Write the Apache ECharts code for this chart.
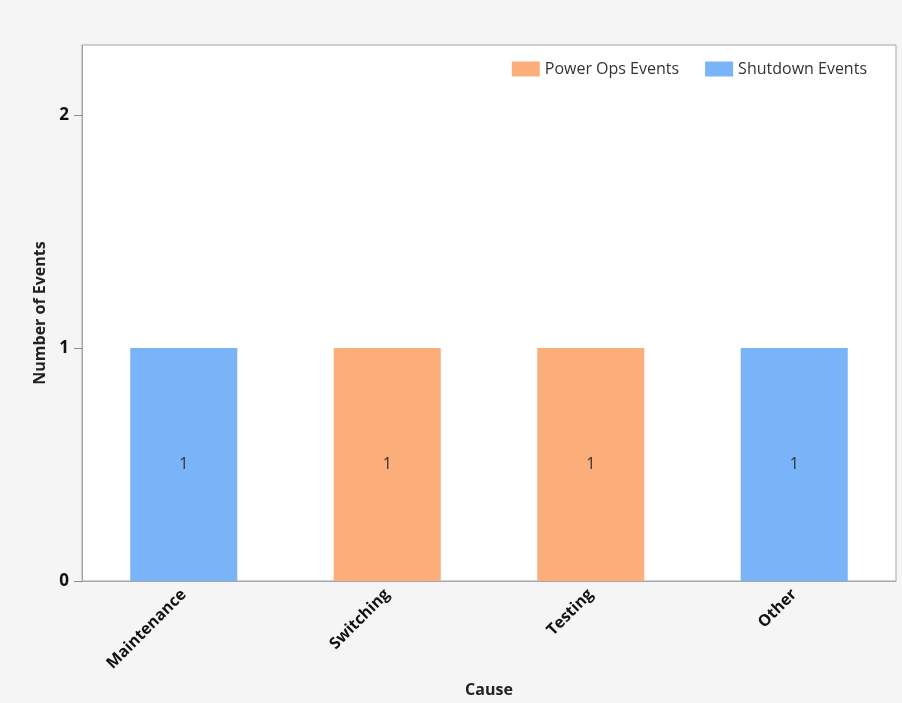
<!DOCTYPE html>
<html>
<head>
<meta charset="utf-8">
<script src="https://cdn.jsdelivr.net/npm/echarts@6/dist/echarts.min.js"></script>
<style>
  html, body { margin: 0; padding: 0; background: #f5f5f5; }
  #chart { width: 902px; height: 703px; }
</style>
</head>
<body>
<div id="chart"></div>
<script>
  var causes = ['Maintenance', 'Switching', 'Testing', 'Other'];
  var powerOpsEvents = [null, 1, 1, null];
  var shutdownEvents = [1, null, null, 1];
  var yTicks = [0, 1, 2];

  var font = '"Open Sans", "Noto Sans", sans-serif';

  var chart = echarts.init(document.getElementById('chart'));

  chart.setOption({
    backgroundColor: '#f5f5f5',
    animation: false,
    textStyle: { fontFamily: font },
    legend: {
      top: 56,
      right: 30,
      icon: 'rect',
      itemWidth: 28,
      itemHeight: 15,
      itemGap: 26,
      textStyle: { fontSize: 16, color: '#333', fontFamily: font },
      data: ['Power Ops Events', 'Shutdown Events']
    },
    grid: {
      left: 82,
      right: 6,
      top: 45,
      bottom: 122,
      show: true,
      backgroundColor: '#ffffff',
      borderColor: '#a6a6a6',
      borderWidth: 1
    },
    xAxis: {
      type: 'category',
      data: causes,
      name: 'Cause',
      nameLocation: 'middle',
      nameGap: 101,
      nameTextStyle: { fontSize: 16, fontWeight: 'bold', color: '#222', fontFamily: font },
      axisLine: { lineStyle: { color: '#a6a6a6' } },
      axisTick: { show: false },
      axisLabel: {
        rotate: 45,
        fontSize: 16,
        fontWeight: 'bold',
        color: '#111',
        margin: 11,
        fontFamily: font
      }
    },
    yAxis: {
      type: 'value',
      min: 0,
      max: 2.3,
      interval: 1,
      name: 'Number of Events',
      nameLocation: 'middle',
      nameGap: 32,
      nameTextStyle: { fontSize: 16, fontWeight: 'bold', color: '#222', fontFamily: font },
      axisLine: { show: true, lineStyle: { color: '#a6a6a6' } },
      axisTick: { show: true, length: 8, customValues: yTicks, lineStyle: { color: '#8c8c8c' } },
      splitLine: { show: false },
      axisLabel: {
        fontSize: 17,
        fontWeight: 'bold',
        color: '#111',
        margin: 13,
        fontFamily: font,
        customValues: yTicks
      }
    },
    series: [
      {
        name: 'Power Ops Events',
        type: 'bar',
        stack: 'total',
        barWidth: '52.6%',
        data: powerOpsEvents,
        itemStyle: { color: '#fbae7a' },
        label: { show: true, position: 'inside', color: '#333', fontSize: 16, fontFamily: font }
      },
      {
        name: 'Shutdown Events',
        type: 'bar',
        stack: 'total',
        barWidth: '52.6%',
        data: shutdownEvents,
        itemStyle: { color: '#7ab4f8' },
        label: { show: true, position: 'inside', color: '#333', fontSize: 16, fontFamily: font }
      }
    ]
  });
</script>
</body>
</html>
